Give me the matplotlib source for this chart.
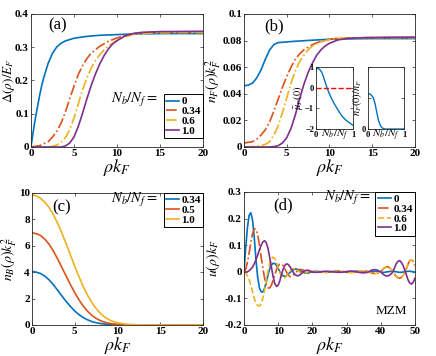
import numpy as np
import matplotlib
matplotlib.use("Agg")
import matplotlib.pyplot as plt
from matplotlib.ticker import FormatStrFormatter

plt.rcParams["font.family"] = ["Liberation Serif", "DejaVu Serif"]
plt.rcParams["mathtext.fontset"] = "stix"
plt.rcParams["axes.linewidth"] = 0.6
plt.rcParams["axes.edgecolor"] = "#262626"

# MATLAB default colours
c_blue, c_orange, c_yellow, c_purple = "#0072BD", "#D95319", "#EDB120", "#7E2F8E"

# ---- panel (a): gap profile Delta(rho)/E_F ----
a_x_blue = [0, 0.25, 0.5, 0.75, 1, 1.25, 1.5, 2, 2.5, 3, 3.5, 4, 5, 6, 7, 8, 10, 12, 15, 20]
a_y_blue = [0, 0.045, 0.085, 0.12, 0.155, 0.185, 0.21, 0.252, 0.282, 0.301, 0.312, 0.319, 0.327, 0.331, 0.334, 0.336, 0.338, 0.34, 0.341, 0.341]
a_x_or = [0, 1, 2, 2.5, 3, 3.5, 4, 4.5, 5, 5.5, 6, 6.5, 7, 8, 9, 10, 11, 12, 14, 17, 20]
a_y_or = [0, 0.004, 0.016, 0.03, 0.047, 0.072, 0.105, 0.145, 0.183, 0.218, 0.245, 0.266, 0.282, 0.303, 0.318, 0.328, 0.336, 0.341, 0.344, 0.345, 0.345]
a_x_ye = [0, 2, 2.5, 3, 3.5, 4, 4.5, 5, 5.5, 6, 6.5, 7, 7.5, 8, 8.5, 9, 10, 11, 12, 14, 17, 20]
a_y_ye = [0, 0, 0.002, 0.006, 0.014, 0.028, 0.052, 0.087, 0.13, 0.172, 0.208, 0.237, 0.26, 0.278, 0.292, 0.304, 0.32, 0.332, 0.339, 0.343, 0.344, 0.344]
a_x_pu = [0, 3.5, 4, 4.5, 5, 5.5, 6, 6.5, 7, 7.5, 8, 8.5, 9, 9.5, 10, 11, 12, 13, 15, 20]
a_y_pu = [0, 0, 0.003, 0.012, 0.03, 0.062, 0.102, 0.145, 0.185, 0.22, 0.25, 0.275, 0.295, 0.31, 0.32, 0.335, 0.342, 0.345, 0.347, 0.348]

# ---- panel (b): fermion density n_F k_F^2 ----
b_x_blue = [0, 0.5, 1, 1.5, 2, 2.5, 3, 3.5, 4, 5, 6, 8, 10, 12, 15, 20]
b_y_blue = [0.046, 0.0465, 0.048, 0.052, 0.058, 0.066, 0.073, 0.077, 0.0785, 0.079, 0.0795, 0.0803, 0.081, 0.0813, 0.0815, 0.0815]
b_x_or = [0, 1, 1.5, 2, 2.5, 3, 3.5, 4, 4.5, 5, 5.5, 6, 6.5, 7, 8, 9, 10, 11, 12, 15, 20]
b_y_or = [0.003, 0.004, 0.006, 0.009, 0.013, 0.019, 0.027, 0.036, 0.045, 0.053, 0.06, 0.066, 0.07, 0.073, 0.077, 0.0795, 0.081, 0.0817, 0.082, 0.0822, 0.0822]
b_x_ye = [0, 1, 2, 2.5, 3, 3.5, 4, 4.5, 5, 5.5, 6, 6.5, 7, 7.5, 8, 9, 10, 11, 12, 15, 20]
b_y_ye = [0, 0.0003, 0.001, 0.002, 0.004, 0.009, 0.016, 0.026, 0.037, 0.048, 0.057, 0.064, 0.069, 0.073, 0.076, 0.079, 0.0808, 0.0817, 0.082, 0.0822, 0.0822]
b_x_pu = [0, 3, 3.5, 4, 4.5, 5, 5.5, 6, 6.5, 7, 7.5, 8, 8.5, 9, 9.5, 10, 11, 12, 14, 17, 20]
b_y_pu = [0, 0, 0.0003, 0.001, 0.003, 0.007, 0.014, 0.024, 0.036, 0.047, 0.056, 0.063, 0.069, 0.073, 0.076, 0.078, 0.0805, 0.0815, 0.0822, 0.0825, 0.0826]

# insets of (b)
nb_ratio = [0, 0.05, 0.1, 0.15, 0.2, 0.25, 0.3, 0.35, 0.4, 0.45, 0.5, 0.6, 0.7, 0.8, 0.9, 1.0]
mu_F0 = [0.94, 0.93, 0.88, 0.76, 0.54, 0.25, -0.02, -0.25, -0.45, -0.63, -0.8, -1.1, -1.37, -1.56, -1.7, -1.82]
nF0_ratio = [0.57, 0.565, 0.545, 0.5, 0.4, 0.25, 0.12, 0.05, 0.015, 0.003, 0, 0, 0, 0, 0, 0]

# ---- panel (c): boson density n_B k_F^2 ----
c_x = [0, 0.5, 1, 1.5, 2, 2.5, 3, 3.5, 4, 4.5, 5, 5.5, 6, 6.5, 7, 7.5, 8, 8.5, 9, 9.5, 10, 11, 12, 13, 20]
c_y_034 = [4.05, 4.0, 3.9, 3.7, 3.42, 3.05, 2.63, 2.2, 1.78, 1.4, 1.06, 0.78, 0.56, 0.39, 0.26, 0.17, 0.11, 0.07, 0.04, 0.025, 0.015, 0.005, 0, 0, 0]
c_y_05 = [6.98, 6.92, 6.78, 6.5, 6.12, 5.6, 5.0, 4.35, 3.7, 3.05, 2.45, 1.9, 1.43, 1.04, 0.73, 0.5, 0.33, 0.21, 0.13, 0.08, 0.05, 0.015, 0.004, 0, 0]
c_y_10 = [9.85, 9.78, 9.6, 9.3, 8.9, 8.35, 7.7, 6.95, 6.15, 5.3, 4.45, 3.65, 2.9, 2.25, 1.7, 1.25, 0.88, 0.6, 0.4, 0.26, 0.16, 0.06, 0.02, 0.005, 0]

# ---- panel (d): MZM wavefunction u(rho) k_F ----
d_x = np.concatenate([np.arange(0, 20.5, 0.5), np.arange(21, 36.5, 1), np.arange(36.5, 50.5, 0.5)])
d_blue = [0, 0.09, 0.165, 0.212, 0.222, 0.195, 0.13, 0.045, -0.02, -0.06,
          -0.075, -0.076, -0.063, -0.04, -0.013, 0.01, 0.025, 0.032, 0.031, 0.024,
          0.012, 0.0, -0.01, -0.016, -0.017, -0.014, -0.008, -0.002, 0.004, 0.008,
          0.01, 0.01, 0.008, 0.004, 0.0, -0.003, -0.005, -0.005, -0.003, -0.001, 0.001,
          0.002, 0.001, -0.001, -0.002, -0.001, 0.001, 0.002, 0.001, -0.001, -0.002, -0.001, 0.001, 0.002, 0.001, -0.001, -0.002,
          -0.001, 0.0, 0.001, 0.002, 0.002, 0.001, 0.0, -0.001, -0.002, -0.002, -0.001, 0.0, 0.001, 0.002,
          0.002, 0.001, 0.0, -0.001, -0.002, -0.002, -0.001, 0.0, 0.001, 0.002, 0.002, 0.001, 0.0, -0.001]
d_orange = [0, 0.01, 0.035, 0.07, 0.11, 0.143, 0.162, 0.16, 0.14, 0.102,
            0.057, 0.015, -0.022, -0.047, -0.06, -0.061, -0.051, -0.033, -0.012, 0.008,
            0.022, 0.029, 0.029, 0.022, 0.01, -0.003, -0.013, -0.018, -0.017, -0.012,
            -0.005, 0.002, 0.007, 0.009, 0.008, 0.005, 0.001, -0.003, -0.004, -0.004, -0.002,
            0.0, -0.001, -0.002, -0.002, -0.001, 0.0, 0.001, 0.002, 0.001, -0.001, -0.002, -0.002, 0.0, 0.002, 0.004, 0.002,
            0, -0.003, -0.005, -0.006, -0.006, -0.005, -0.002, 0.001, 0.008, 0.014,
            0.018, 0.019, 0.016, 0.01, 0.002, -0.008, -0.017, -0.022, -0.024, -0.021,
            -0.013, -0.003, 0.012, 0.03, 0.042, 0.045, 0.038, 0.023]
d_yellow = [0, -0.005, -0.015, -0.03, -0.05, -0.075, -0.1, -0.118, -0.127, -0.129,
            -0.121, -0.1, -0.07, -0.035, 0.0, 0.03, 0.048, 0.055, 0.05, 0.036,
            0.016, -0.004, -0.018, -0.024, -0.022, -0.015, -0.006, 0.003, 0.009, 0.012,
            0.011, 0.007, 0.002, -0.003, -0.006, -0.006, -0.004, -0.001, 0.002, 0.003, 0.002,
            0.001, 0.0, -0.0015, -0.002, -0.0015, 0.0, 0.0015, 0.002, 0.001, -0.001, -0.003, -0.002, 0.0, 0.003, 0.004, 0.002,
            0, -0.003, -0.006, -0.007, -0.007, -0.005, -0.003, 0, 0.008, 0.015,
            0.019, 0.02, 0.016, 0.01, 0.002, -0.008, -0.018, -0.023, -0.025, -0.022,
            -0.014, -0.004, 0.012, 0.031, 0.043, 0.046, 0.039, 0.024]
d_purple = [0, -0.001, 0.0, 0.004, 0.01, 0.018, 0.03, 0.045, 0.063, 0.082,
            0.099, 0.112, 0.117, 0.11, 0.089, 0.056, 0.019, -0.017, -0.044, -0.055,
            -0.05, -0.033, -0.009, 0.012, 0.025, 0.03, 0.027, 0.018, 0.007, -0.004,
            -0.011, -0.015, -0.014, -0.01, -0.004, 0.002, 0.005, 0.006, 0.005, 0.002, -0.001,
            -0.002, -0.001, 0.0015, 0.002, 0.0015, 0.0, -0.0015, -0.002, -0.001, 0.001, 0.003, 0.002, 0.0, -0.003, -0.004, -0.002,
            0, 0.004, 0.007, 0.008, 0.008, 0.006, 0.003, 0.0, -0.007, -0.012,
            -0.0155, -0.016, -0.013, -0.008, -0.001, 0.014, 0.03, 0.039, 0.042, 0.036,
            0.024, 0.007, -0.012, -0.031, -0.043, -0.046, -0.039, -0.024]

labels4 = ["0", "0.34", "0.6", "1.0"]
labels3 = ["0.34", "0.5", "1.0"]

fs_tick = 8
fs_lab = 10
fs_xlab = 13
lw = 1.2

fig = plt.figure(figsize=(4.36, 3.56), dpi=100)
ax_a = fig.add_axes([0.0711, 0.5871, 0.3945, 0.3736])
ax_b = fig.add_axes([0.5596, 0.5871, 0.3922, 0.3736])
ax_c = fig.add_axes([0.0734, 0.0871, 0.3922, 0.3708])
ax_d = fig.add_axes([0.5596, 0.0871, 0.3922, 0.3736])


def style(ax, fs=fs_tick):
    ax.tick_params(direction="in", top=True, right=True, length=2.5, width=0.5,
                   labelsize=fs, pad=1.5, colors="#262626")
    for t in ax.get_xticklabels() + ax.get_yticklabels():
        t.set_fontweight("bold")
        t.set_color("black")


def legend(ax, handles, labels, **kw):
    leg = ax.legend(handles, labels, frameon=True, fancybox=False, edgecolor="black",
                    framealpha=1, borderaxespad=0, handlelength=1.2, handletextpad=0.2,
                    borderpad=0.2, labelspacing=0.0,
                    prop={"family": "Liberation Serif", "weight": "bold", "size": 8}, **kw)
    leg.get_frame().set_linewidth(0.7)
    return leg


# (a)
la = ax_a.plot(a_x_blue, a_y_blue, "-", color=c_blue, lw=lw)
lo = ax_a.plot(a_x_or, a_y_or, "-.", color=c_orange, lw=lw)
ly = ax_a.plot(a_x_ye, a_y_ye, "-.", color=c_yellow, lw=lw)
lp = ax_a.plot(a_x_pu, a_y_pu, "-", color=c_purple, lw=lw)
ax_a.set_xlim(0, 20)
ax_a.set_ylim(0, 0.4)
ax_a.set_xticks([0, 5, 10, 15, 20])
ax_a.set_yticks([0, 0.1, 0.2, 0.3, 0.4])
ax_a.yaxis.set_major_formatter(FormatStrFormatter("%g"))
ax_a.set_xlabel(r"$\rho k_F$", fontsize=fs_xlab, labelpad=-1)
ax_a.set_ylabel(r"$\Delta(\rho)/E_F$", fontsize=9.5)
ax_a.yaxis.set_label_coords(-0.084, 0.5)
ax_a.text(3.1, 0.367, "(a)", fontsize=12, ha="center", va="center")
legend(ax_a, [la[0], lo[0], ly[0], lp[0]], labels4, loc="lower right", bbox_to_anchor=(1, 0.068))
ax_a.text(0.735, 0.353, r"$N_b/N_f=$", transform=ax_a.transAxes, fontsize=10.5, ha="right", va="center")
style(ax_a)

# (b)
ax_b.plot(b_x_blue, b_y_blue, "-", color=c_blue, lw=lw)
ax_b.plot(b_x_or, b_y_or, "-.", color=c_orange, lw=lw)
ax_b.plot(b_x_ye, b_y_ye, "-.", color=c_yellow, lw=lw)
ax_b.plot(b_x_pu, b_y_pu, "-", color=c_purple, lw=lw)
ax_b.set_xlim(0, 20)
ax_b.set_ylim(0, 0.1)
ax_b.set_xticks([0, 5, 10, 15, 20])
ax_b.set_yticks([0, 0.02, 0.04, 0.06, 0.08, 0.1])
ax_b.yaxis.set_major_formatter(FormatStrFormatter("%g"))
ax_b.set_xlabel(r"$\rho k_F$", fontsize=fs_xlab, labelpad=-1)
ax_b.set_ylabel(r"$n_F(\rho)k_F^2$", fontsize=fs_lab)
ax_b.yaxis.set_label_coords(-0.12, 0.5)
ax_b.text(3.5, 0.091, "(b)", fontsize=12, ha="center", va="center")
style(ax_b)

ins1 = fig.add_axes([0.7248, 0.6376, 0.0849, 0.1742])
ins1.plot(nb_ratio, mu_F0, "-", color=c_blue, lw=1.0)
ins1.plot([0, 1], [0, 0], "--", color="red", lw=1.0)
ins1.set_xlim(0, 1)
ins1.set_ylim(-2, 1)
ins1.set_xticks([0, 1])
ins1.set_yticks([-2, -1, 0, 1])
ins1.set_xlabel(r"$N_b/N_f$", fontsize=8, labelpad=-8)
ins1.set_ylabel(r"$\bar{\mu}_F(0)$", fontsize=7.5)
ins1.yaxis.set_label_coords(-0.3, 0.5)
style(ins1, fs=6)

ins2 = fig.add_axes([0.844, 0.6376, 0.0826, 0.1742])
ins2.plot(nb_ratio, nF0_ratio, "-", color=c_blue, lw=1.0)
ins2.set_xlim(0, 1)
ins2.set_ylim(0, 1)
ins2.set_xticks([0, 1])
ins2.set_yticks([0, 0.5, 1])
ins2.set_yticklabels(["0", "", ""])
ins2.set_xlabel(r"$N_b/N_f$", fontsize=8, labelpad=-8)
ins2.set_ylabel(r"$n_F(0)/n_F$", fontsize=7.5)
ins2.yaxis.set_label_coords(-0.1, 0.5)
style(ins2, fs=6)

# (c)
h1 = ax_c.plot(c_x, c_y_034, "-", color=c_blue, lw=lw)
h2 = ax_c.plot(c_x, c_y_05, "-", color=c_orange, lw=lw)
h3 = ax_c.plot(c_x, c_y_10, "-", color=c_yellow, lw=lw)
ax_c.set_xlim(0, 20)
ax_c.set_ylim(0, 10)
ax_c.set_xticks([0, 5, 10, 15, 20])
ax_c.set_yticks([0, 2, 4, 6, 8, 10])
ax_c.set_xlabel(r"$\rho k_F$", fontsize=fs_xlab, labelpad=-1)
ax_c.set_ylabel(r"$n_B(\rho)k_F^2$", fontsize=fs_lab)
ax_c.yaxis.set_label_coords(-0.075, 0.5)
ax_c.text(3.4, 8.9, "(c)", fontsize=12, ha="center", va="center")
legend(ax_c, [h1[0], h2[0], h3[0]], labels3, loc="upper right", bbox_to_anchor=(1, 1))
ax_c.text(0.737, 0.947, r"$N_b/N_f=$", transform=ax_c.transAxes, fontsize=10.5, ha="right", va="center")
style(ax_c)

# (d)
g1 = ax_d.plot(d_x, d_blue, "-", color=c_blue, lw=lw)
g2 = ax_d.plot(d_x, d_orange, "-.", color=c_orange, lw=lw)
g3 = ax_d.plot(d_x, d_yellow, "--", color=c_yellow, lw=lw)
g4 = ax_d.plot(d_x, d_purple, "-", color=c_purple, lw=lw)
ax_d.set_xlim(0, 50)
ax_d.set_ylim(-0.2, 0.3)
ax_d.set_xticks([0, 10, 20, 30, 40, 50])
ax_d.set_yticks([-0.2, -0.1, 0, 0.1, 0.2, 0.3])
ax_d.yaxis.set_major_formatter(FormatStrFormatter("%g"))
ax_d.set_xlabel(r"$\rho k_F$", fontsize=fs_xlab, labelpad=-1)
ax_d.set_ylabel(r"$u(\rho)k_F$", fontsize=fs_lab)
ax_d.yaxis.set_label_coords(-0.13, 0.5)
ax_d.text(11.4, 0.248, "(d)", fontsize=12, ha="center", va="center")
ax_d.text(0.86, 0.105, "MZM", transform=ax_d.transAxes, fontsize=9.5, ha="center", va="center")
legend(ax_d, [g1[0], g2[0], g3[0], g4[0]], labels4, loc="upper right", bbox_to_anchor=(1, 1))
ax_d.text(0.743, 0.955, r"$N_b/N_f=$", transform=ax_d.transAxes, fontsize=10.5, ha="right", va="center")
style(ax_d)

fig.savefig("out.png", dpi=100)
